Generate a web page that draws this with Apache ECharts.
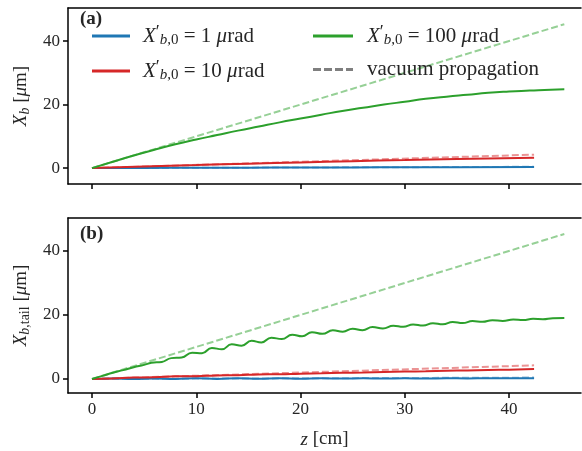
<!DOCTYPE html>
<html>
<head>
<meta charset="utf-8">
<script src="https://cdn.jsdelivr.net/npm/echarts@6/dist/echarts.min.js"></script>
<style>
html,body{margin:0;padding:0;background:#fff}
#chart{width:582px;height:451px}
</style>
</head>
<body>
<div id="chart"></div>
<script>
// z positions [cm]
var zTopGreen = [0, 2, 4, 6, 8, 10, 12, 14, 16, 18, 20, 22, 24, 26, 28, 30, 32, 34, 36, 38, 40, 42, 44, 45.3];
var zSmall = [0, 5, 10, 15, 20, 25, 30, 35, 42.4];
var zBotRB = [0, 2, 4, 6, 8, 10, 12, 14, 16, 18, 20, 22, 24, 26, 28, 30, 32, 34, 36, 38, 40, 42.4];
var zBotGreen = [0, 1, 2, 3, 4, 5, 5.7, 6.7, 7.6, 8.6, 9.6, 10.55, 11.5, 12.45, 13.4, 14.35, 15.3, 16.25,
    17.2, 18.2, 19.2, 20.15, 21.1, 22.1, 23.1, 24.05, 25, 25.95, 26.9, 27.9, 28.9, 29.85, 30.8, 31.75,
    32.7, 33.65, 34.6, 35.55, 36.5, 37.45, 38.4, 39.4, 40.4, 41.35, 42.3, 43.25, 44.2, 45.3];
var zVac = [0, 42.4];
var zVac100 = [0, 45.3];

// (a) X_b [um]
var topBlue = [0, 0.05, 0.1, 0.14, 0.18, 0.22, 0.26, 0.29, 0.33];
var topRed = [0, 0.5, 0.95, 1.4, 1.8, 2.2, 2.55, 2.9, 3.3];
var topGreen = [0, 2, 3.95, 5.8, 7.5, 9.0, 10.4, 11.8, 13.1, 14.4, 15.6, 16.8, 18.0, 19.0, 20.0, 20.9,
    21.8, 22.5, 23.1, 23.7, 24.1, 24.4, 24.7, 24.8];

// (b) X_b,tail [um]
var botBlue = [0, 0.1, -0.05, 0.15, 0, 0.2, 0, 0.2, 0.05, 0.2, 0.05, 0.2, 0.1, 0.2, 0.1, 0.2, 0.12, 0.2, 0.15, 0.2, 0.18, 0.22];
var botRed = [0, 0.15, 0.45, 0.5, 0.8, 0.85, 1.1, 1.15, 1.4, 1.45, 1.65, 1.75, 1.9, 2.0, 2.15, 2.3, 2.4, 2.55, 2.65, 2.8, 2.9, 3.1];
var botGreen = [0, 0.95, 1.95, 2.75, 3.65, 4.4, 5.05, 5.3, 6.5, 6.7, 8.2, 8.05, 9.7, 9.25, 10.8, 10.4, 11.9, 11.4,
    12.9, 12.45, 13.8, 13.3, 14.6, 14.1, 15.2, 14.75, 15.7, 15.25, 16.2, 15.75, 16.6, 16.27, 17.03, 16.67,
    17.43, 17.07, 17.78, 17.45, 18.1, 17.85, 18.35, 18.12, 18.57, 18.43, 18.77, 18.68, 19.0, 19.05];

// vacuum propagation
var vac1 = [0, 0.42];
var vac10 = [0, 4.24];
var vac100 = [0, 45.3];

var yTicks = [0, 20, 40];
var xTicks = [0, 10, 20, 30, 40];

var FONT = 'Liberation Serif';
var INK = '#262626';
var BLUE = '#1f77b4', RED = '#d62728', GREEN = '#2ca02c', GRAY = '#7f7f7f';
var BLUE_L = '#8fbbd9', RED_L = '#eb9394', GREEN_L = '#96d096';

var SOLID_ICON = 'path://M0,0h40v3h-40z';
var DASH_ICON = 'path://M0,0h8v3h-8zM11,0h8v3h-8zM22,0h8v3h-8zM33,0h7v3h-7z';

function zip(xs, ys) {
    return xs.map(function (x, i) { return [x, ys[i]]; });
}

var rich = {
    x: {fontFamily: FONT, fontStyle: 'italic', fontSize: 21, color: INK},
    p: {fontFamily: FONT, fontSize: 18, color: INK, verticalAlign: 'top', padding: [0, 0, 6, 0]},
    si: {fontFamily: FONT, fontStyle: 'italic', fontSize: 15, color: INK, padding: [9, 0, 0, 0]},
    s: {fontFamily: FONT, fontSize: 15, color: INK, padding: [9, 0, 0, 0]},
    t: {fontFamily: FONT, fontSize: 21, color: INK},
    m: {fontFamily: FONT, fontStyle: 'italic', fontSize: 21, color: INK}
};

var legendNames = {
    '1': '{x|X}{p|′}{si|b}{s|,0}{t| = 1 }{m|μ}{t|rad}',
    '10': '{x|X}{p|′}{si|b}{s|,0}{t| = 10 }{m|μ}{t|rad}',
    '100': '{x|X}{p|′}{si|b}{s|,0}{t| = 100 }{m|μ}{t|rad}',
    'vacuum propagation': '{t|vacuum propagation}'
};

var spine = {color: '#000', width: 1.5};

// bottom axis with ticks (and labels for panel b)
function xAxis(idx, labels) {
    return {
        type: 'value', gridIndex: idx, min: -2.3, max: 46.9, position: 'bottom',
        splitLine: {show: false},
        axisLine: {onZero: false, lineStyle: spine},
        axisTick: {customValues: xTicks, length: 5, lineStyle: spine},
        axisLabel: {show: labels, customValues: xTicks, color: INK, fontFamily: FONT, fontSize: 17, margin: 8},
        name: labels ? '{mi|z} [cm]' : '',
        nameLocation: 'middle', nameGap: 37,
        nameTextStyle: {color: INK, fontFamily: FONT, fontSize: 19,
            rich: {mi: {fontFamily: FONT, fontStyle: 'italic', fontSize: 19, color: INK}}}
    };
}

// top spine only (right spine falls outside the picture)
function topSpine(idx) {
    return {
        type: 'value', gridIndex: idx, min: -2.3, max: 46.9, position: 'top',
        splitLine: {show: false},
        axisLine: {onZero: false, lineStyle: spine},
        axisTick: {show: false}, axisLabel: {show: false}
    };
}

function yAxis(idx, min, max, name) {
    return {
        type: 'value', gridIndex: idx, min: min, max: max,
        splitLine: {show: false},
        axisLine: {onZero: false, lineStyle: spine},
        axisTick: {customValues: yTicks, length: 5, lineStyle: spine},
        axisLabel: {customValues: yTicks, color: INK, fontFamily: FONT, fontSize: 17, margin: 8},
        name: name, nameLocation: 'middle', nameRotate: 90, nameGap: 35,
        nameTextStyle: {color: INK, fontFamily: FONT, fontSize: 19,
            rich: {
                x: {fontFamily: FONT, fontStyle: 'italic', fontSize: 19, color: INK},
                si: {fontFamily: FONT, fontStyle: 'italic', fontSize: 14, color: INK, padding: [9, 0, 0, 0]},
                s: {fontFamily: FONT, fontSize: 14, color: INK, padding: [9, 0, 0, 0]},
                t: {fontFamily: FONT, fontSize: 19, color: INK},
                m: {fontFamily: FONT, fontStyle: 'italic', fontSize: 19, color: INK}
            }}
    };
}

function line(name, idx, data, color, dashed, smooth) {
    return {
        name: name, type: 'line', xAxisIndex: idx, yAxisIndex: idx,
        data: data, symbol: 'none', smooth: smooth || false, silent: true,
        lineStyle: {color: color, width: 2, type: dashed ? [7, 3] : 'solid'},
        itemStyle: {color: color}
    };
}

function legendBox(items, left, width) {
    return {
        data: items, orient: 'vertical', left: left, top: 19,
        itemWidth: width, itemHeight: 3, itemGap: 11,
        selectedMode: false,
        formatter: function (n) { return legendNames[n]; },
        textStyle: {padding: [0, 0, 0, 8], rich: rich}
    };
}

var chart = echarts.init(document.getElementById('chart'));
var option = {
    backgroundColor: '#fff',
    animation: false,
    textStyle: {fontFamily: FONT},
    grid: [
        {left: 68, top: 8, right: 1, height: 176},
        {left: 68, top: 218, right: 1, height: 175}
    ],
    xAxis: [xAxis(0, false), xAxis(1, true), topSpine(0), topSpine(1)],
    yAxis: [
        yAxis(0, -5, 50.4, '{x|X}{si|b}{t| [}{m|μ}{t|m]}'),
        yAxis(1, -4.4, 50.3, '{x|X}{si|b}{s|,tail}{t| [}{m|μ}{t|m]}')
    ],
    legend: [
        legendBox([{name: '1', icon: SOLID_ICON}, {name: '10', icon: SOLID_ICON}], 87, 38),
        legendBox([{name: '100', icon: SOLID_ICON}, {name: 'vacuum propagation', icon: DASH_ICON}], 308, 42)
    ],
    graphic: [
        {type: 'text', left: 80, top: 10, style: {text: '(a)', font: 'bold 19px "Liberation Serif"', fill: INK}},
        {type: 'text', left: 80, top: 225, style: {text: '(b)', font: 'bold 19px "Liberation Serif"', fill: INK}}
    ],
    series: [
        line('vacuum propagation', 0, [], GRAY, true),
        // panel (a)
        line('vac1', 0, zip(zVac, vac1), BLUE_L, true),
        line('vac10', 0, zip(zVac, vac10), RED_L, true),
        line('vac100', 0, zip(zVac100, vac100), GREEN_L, true),
        line('1', 0, zip(zSmall, topBlue), BLUE, false, true),
        line('10', 0, zip(zSmall, topRed), RED, false, true),
        line('100', 0, zip(zTopGreen, topGreen), GREEN, false, true),
        // panel (b)
        line('vac1', 1, zip(zVac, vac1), BLUE_L, true),
        line('vac10', 1, zip(zVac, vac10), RED_L, true),
        line('vac100', 1, zip(zVac100, vac100), GREEN_L, true),
        line('1', 1, zip(zBotRB, botBlue), BLUE, false, 0.5),
        line('10', 1, zip(zBotRB, botRed), RED, false, 0.5),
        line('100', 1, zip(zBotGreen, botGreen), GREEN, false, 0.5)
    ]
};
chart.setOption(option);
</script>
</body>
</html>
